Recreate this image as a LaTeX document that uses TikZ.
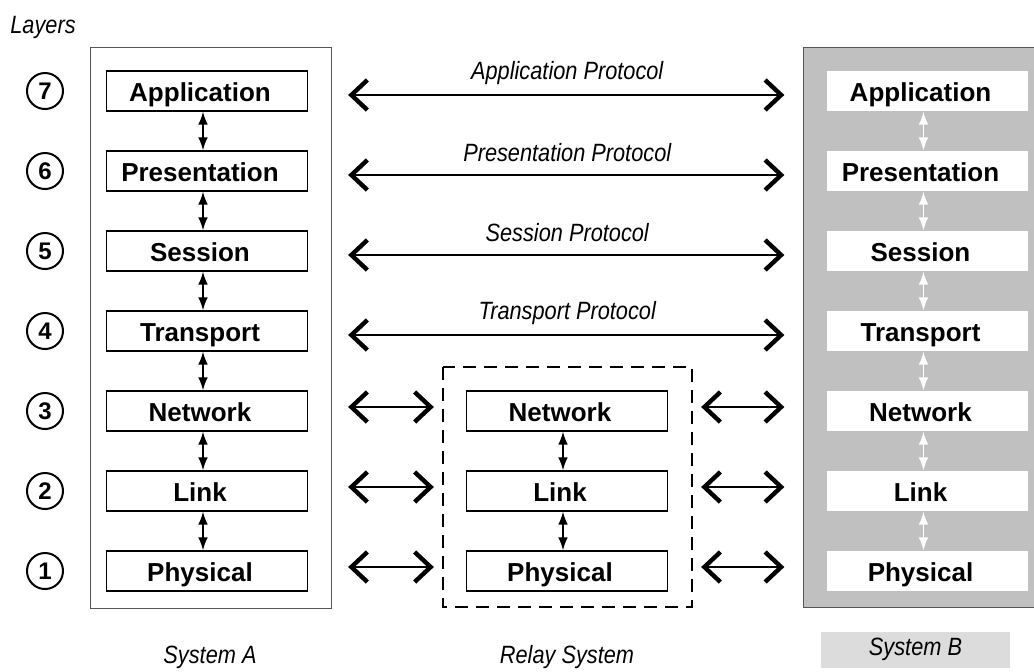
\documentclass[tikz,border=0pt]{standalone}
\usepackage{fontspec}
\setmainfont{Liberation Sans}
\newfontfamily\protofont[FakeStretch=0.87]{Liberation Sans}
\usetikzlibrary{arrows.meta,positioning}

\definecolor{sysgray}{RGB}{192,192,192}
\definecolor{tabgray}{RGB}{220,220,220}
\definecolor{framegray}{RGB}{85,85,85}

\begin{document}
\begin{tikzpicture}[x=0.5pt, y=-0.5pt,
    layerbox/.style={draw, line width=0.65pt, fill=white, minimum width=100.5pt,
        minimum height=20pt, inner sep=0pt, text height=11pt, text depth=1pt,
        font=\fontsize{13}{15}\selectfont\bfseries, execute at end node={\hspace*{7pt}}},
    ghostbox/.style={layerbox, draw=none},
    layernum/.style={circle, draw, line width=1pt, minimum size=18pt, inner sep=0pt,
        font=\fontsize{12}{14}\selectfont\bfseries},
    protolabel/.style={font=\protofont\itshape\fontsize{12.5}{14}\selectfont},
    peerarrow/.style={line width=1.2pt,
        {Straight Barb[length=8pt,width=15pt,line width=2.2pt]}-{Straight Barb[length=8pt,width=15pt,line width=2.2pt]}},
    stackarrow/.style={line width=0.7pt,
        {Latex[length=6.5pt,width=4.8pt]}-{Latex[length=6.5pt,width=4.8pt]}}]
\useasboundingbox (0,0) rectangle (1034,671);

% Caption
\node[protolabel] (layers) at (43,27) {Layers};

% System frames
\draw[framegray, line width=0.5pt] (90,47) rectangle (331,608);
\draw[framegray, line width=0.5pt, fill=sysgray] (803,47) rectangle (1045,607);
\draw[line width=1.1pt, dash pattern=on 6.5pt off 4pt] (443,367) rectangle (692,607);

% Layer stacks of System A and System B
\foreach \n/\name in {7/Application, 6/Presentation, 5/Session, 4/Transport, 3/Network, 2/Link, 1/Physical} {
    \node[layernum] (num\n) at (45,{91+(7-\n)*80}) {\n};
    \node[layerbox] (A\n) at (207,{91+(7-\n)*80}) {\name};
    \node[ghostbox] (B\n) at (927.5,{91+(7-\n)*80}) {\name};
}

% Relay system
\foreach \n/\name in {3/Network, 2/Link, 1/Physical}
    \node[layerbox] (R\n) at (567,{91+(7-\n)*80}) {\name};

% Arrows inside each stack
\foreach \u/\l in {7/6, 6/5, 5/4, 4/3, 3/2, 2/1} {
    \draw[stackarrow] ([xshift=-2pt]A\u.south) -- ([xshift=-2pt]A\l.north);
    \draw[stackarrow, white] ([xshift=-2pt]B\u.south) -- ([xshift=-2pt]B\l.north);
}
\foreach \u/\l in {3/2, 2/1}
    \draw[stackarrow] ([xshift=-2pt]R\u.south) -- ([xshift=-2pt]R\l.north);

% Peer protocols
\foreach \n/\proto in {7/Application, 6/Presentation, 5/Session, 4/Transport}
    \draw[peerarrow, shorten <=20pt, shorten >=21pt] ([yshift=-2pt]A\n.east) --
        node[protolabel, midway, yshift=11pt] (p\n) {\proto\ Protocol} ([yshift=-2pt]B\n.west);

\foreach \n in {3, 2, 1} {
    \draw[peerarrow, shorten <=20pt, shorten >=16pt] ([yshift=2pt]A\n.east) -- ([yshift=2pt]R\n.west);
    \draw[peerarrow, shorten <=16.5pt, shorten >=21pt] ([yshift=2pt]R\n.east) -- ([yshift=2pt]B\n.west);
}

% System names
\node[protolabel] (labA) at (210,657) {System A};
\node[protolabel] (labR) at (567,657) {Relay System};
\node[protolabel, fill=tabgray, minimum width=94.5pt, minimum height=14.5pt] (labB) at (915.5,649.5) {System B};

\end{tikzpicture}
\end{document}
